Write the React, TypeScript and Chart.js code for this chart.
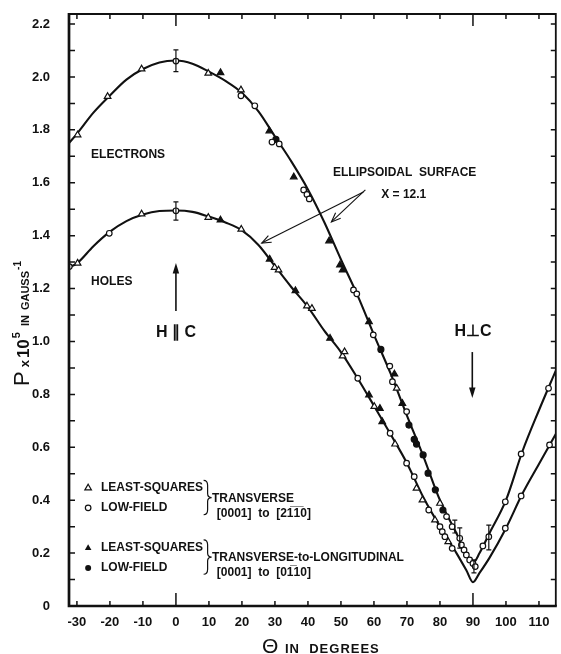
import React, { useEffect, useRef } from "react";
import { Chart, registerables } from "chart.js";
Chart.register(...registerables);

// ---------- axis ticks ----------
const xTicks = [-30, -20, -10, 0, 10, 20, 30, 40, 50, 60, 70, 80, 90, 100, 110];
const xTickLabels = ["-30", "-20", "-10", "0", "10", "20", "30", "40", "50", "60", "70", "80", "90", "100", "110"];
const yTicks = [0, 0.2, 0.4, 0.6, 0.8, 1.0, 1.2, 1.4, 1.6, 1.8, 2.0, 2.2];
const yTickLabels = ["0", "0.2", "0.4", "0.6", "0.8", "1.0", "1.2", "1.4", "1.6", "1.8", "2.0", "2.2"];
const yMinorTicks = [0.1, 0.3, 0.5, 0.7, 0.9, 1.1, 1.3, 1.5, 1.7, 1.9, 2.1];

// ---------- fitted curves (ellipsoidal surface, X = 12.1) ----------
const curveTheta = [-32.4, -30, -25, -20, -15, -10, -5, 0, 5, 10, 15, 20, 25, 30, 35, 40, 45, 50, 55, 60, 65, 70, 75, 80, 85, 88, 90, 92, 95, 100, 105, 110, 115.1];
const electronCurveP = [1.75, 1.785, 1.865, 1.93, 1.99, 2.03, 2.055, 2.062, 2.05, 2.02, 1.985, 1.94, 1.87, 1.775, 1.68, 1.575, 1.45, 1.31, 1.175, 1.025, 0.88, 0.72, 0.565, 0.4, 0.275, 0.195, 0.163, 0.2, 0.275, 0.4, 0.585, 0.74, 0.89];
const holeCurveP = [1.28, 1.295, 1.36, 1.415, 1.455, 1.48, 1.493, 1.495, 1.49, 1.472, 1.45, 1.42, 1.365, 1.285, 1.205, 1.13, 1.04, 0.96, 0.862, 0.757, 0.65, 0.54, 0.41, 0.3, 0.2, 0.135, 0.09, 0.125, 0.182, 0.294, 0.425, 0.537, 0.65];

// ---------- measured points ----------
// transverse, least-squares (open triangles)
const elecOpenTriTheta = [-29.8, -20.7, -10.4, 9.8, 19.7, 66.9, 80];
const elecOpenTriP = [1.781, 1.926, 2.03, 2.014, 1.951, 0.823, 0.388];
const holeOpenTriTheta = [-29.8, -10.4, 9.8, 19.8, 29.9, 31.1, 39.7, 41.2, 50.5, 51.1, 60.1, 66.4, 72.9, 74.7, 78.5, 82.5];
const holeOpenTriP = [1.296, 1.482, 1.469, 1.424, 1.28, 1.27, 1.134, 1.125, 0.945, 0.961, 0.754, 0.612, 0.445, 0.401, 0.325, 0.243];
// transverse, low-field (open circles)
const elecOpenCircTheta = [0, 19.7, 23.9, 29.1, 31.3, 38.7, 39.7, 40.4, 53.8, 54.8, 59.8, 64.8, 65.6, 69.9, 82, 83.7, 86, 86.5, 87.3, 88, 89, 90, 90.7, 93, 94.8, 99.8, 104.6, 112.9];
const elecOpenCircP = [2.06, 1.929, 1.891, 1.754, 1.747, 1.573, 1.556, 1.539, 1.195, 1.18, 1.025, 0.907, 0.848, 0.735, 0.338, 0.3, 0.256, 0.231, 0.212, 0.193, 0.174, 0.161, 0.149, 0.227, 0.262, 0.394, 0.575, 0.823];
const holeOpenCircTheta = [-32.3, -20.2, 0, 55.1, 64.9, 69.9, 72.2, 76.6, 80, 80.7, 81.5, 83.7, 99.8, 104.6, 113.2];
const holeOpenCircP = [1.283, 1.409, 1.494, 0.861, 0.653, 0.54, 0.489, 0.363, 0.3, 0.281, 0.262, 0.218, 0.294, 0.416, 0.609];
// transverse-to-longitudinal, least-squares (filled triangles)
const elecFillTriTheta = [13.5, 28.3, 35.7, 46.4, 49.7, 50.5, 58.5, 66.2, 68.6];
const elecFillTriP = [2.016, 1.796, 1.622, 1.38, 1.289, 1.27, 1.075, 0.877, 0.766];
const holeFillTriTheta = [13.5, 28.4, 36.2, 46.7, 58.5, 61.8, 62.5];
const holeFillTriP = [1.459, 1.311, 1.192, 1.012, 0.798, 0.747, 0.697];
// transverse-to-longitudinal, low-field (filled circles)
const elecFillCircTheta = [30.3, 62.1, 70.6, 72.2, 72.9, 74.9, 76.4, 78.6, 80.9];
const elecFillCircP = [1.764, 0.97, 0.684, 0.63, 0.612, 0.571, 0.502, 0.439, 0.363];

// error bars
const errTheta = [0, 0, 84.5, 86, 90.3, 94.8];
const errLow = [2.02, 1.459, 0.276, 0.219, 0.125, 0.212];
const errHigh = [2.102, 1.528, 0.325, 0.295, 0.174, 0.306];

const FONT = "'Liberation Sans', Arial, sans-serif";
const INK = "#111";

const zip = (xs: number[], ys: number[]) => xs.map((x, i) => ({ x, y: ys[i] }));

function triPath(ctx: CanvasRenderingContext2D, x: number, y: number, r: number) {
  ctx.beginPath();
  for (let k = 0; k < 3; k++) {
    const a = (k * 2 * Math.PI) / 3;
    const px = x + Math.sin(a) * r;
    const py = y - Math.cos(a) * r;
    if (k === 0) ctx.moveTo(px, py);
    else ctx.lineTo(px, py);
  }
  ctx.closePath();
}

function arrow(ctx: CanvasRenderingContext2D, x1: number, y1: number, x2: number, y2: number, filled: boolean, lw: number) {
  const ang = Math.atan2(y2 - y1, x2 - x1);
  const len = filled ? 11 : 10;
  const half = filled ? 0.3 : 0.38;
  ctx.lineWidth = lw;
  ctx.beginPath();
  ctx.moveTo(x1, y1);
  ctx.lineTo(filled ? x2 - Math.cos(ang) * len * 0.8 : x2, filled ? y2 - Math.sin(ang) * len * 0.8 : y2);
  ctx.stroke();
  const ax = x2 - Math.cos(ang - half) * len;
  const ay = y2 - Math.sin(ang - half) * len;
  const bx = x2 - Math.cos(ang + half) * len;
  const by = y2 - Math.sin(ang + half) * len;
  ctx.beginPath();
  if (filled) {
    ctx.moveTo(x2, y2);
    ctx.lineTo(ax, ay);
    ctx.lineTo(bx, by);
    ctx.closePath();
    ctx.fill();
  } else {
    ctx.moveTo(ax, ay);
    ctx.lineTo(x2, y2);
    ctx.lineTo(bx, by);
    ctx.stroke();
  }
}

function brace(ctx: CanvasRenderingContext2D, x: number, yTop: number, yBot: number) {
  const ym = (yTop + yBot) / 2;
  ctx.lineWidth = 1.2;
  ctx.beginPath();
  ctx.moveTo(x - 4, yTop);
  ctx.quadraticCurveTo(x, yTop, x, yTop + 5);
  ctx.lineTo(x, ym - 4);
  ctx.quadraticCurveTo(x, ym, x + 4, ym);
  ctx.quadraticCurveTo(x, ym, x, ym + 4);
  ctx.lineTo(x, yBot - 5);
  ctx.quadraticCurveTo(x, yBot, x - 4, yBot);
  ctx.stroke();
}

const paperPlugin = {
  id: "paper",
  afterDatasetsDraw(chart: any) {
    const ctx: CanvasRenderingContext2D = chart.ctx;
    const xs = chart.scales.x;
    const ys = chart.scales.y;
    const X = (v: number) => xs.getPixelForValue(v);
    const Y = (v: number) => ys.getPixelForValue(v);
    const { left, right, top, bottom } = chart.chartArea;
    ctx.save();
    ctx.strokeStyle = INK;
    ctx.fillStyle = INK;
    ctx.lineCap = "butt";

    // error bars
    ctx.lineWidth = 1.2;
    errTheta.forEach((t, i) => {
      const x = X(t);
      const y1 = Y(errLow[i]);
      const y2 = Y(errHigh[i]);
      ctx.beginPath();
      ctx.moveTo(x, y1);
      ctx.lineTo(x, y2);
      ctx.moveTo(x - 2.5, y1);
      ctx.lineTo(x + 2.5, y1);
      ctx.moveTo(x - 2.5, y2);
      ctx.lineTo(x + 2.5, y2);
      ctx.stroke();
    });

    // frame
    ctx.lineWidth = 1.8;
    ctx.beginPath();
    ctx.moveTo(left, top);
    ctx.lineTo(right, top);
    ctx.lineTo(right, bottom);
    ctx.stroke();
    ctx.lineWidth = 2.7;
    ctx.beginPath();
    ctx.moveTo(left, top - 1);
    ctx.lineTo(left, bottom);
    ctx.lineTo(right + 1, bottom);
    ctx.stroke();

    // inward ticks
    ctx.lineWidth = 1.5;
    ctx.beginPath();
    [...yTicks.slice(1), ...yMinorTicks].forEach((v) => {
      const y = Y(v);
      ctx.moveTo(left, y);
      ctx.lineTo(left + 6, y);
      ctx.moveTo(right, y);
      ctx.lineTo(right - 5, y);
    });
    xTicks.forEach((v) => {
      const x = X(v);
      const long = v === 0 || v === 90;
      ctx.moveTo(x, bottom);
      ctx.lineTo(x, bottom - (long ? 13 : 5));
      ctx.moveTo(x, top);
      ctx.lineTo(x, top + (long ? 12 : 5));
    });
    ctx.stroke();

    // annotations
    ctx.textBaseline = "middle";
    ctx.textAlign = "left";
    ctx.font = `bold 12px ${FONT}`;
    ctx.fillText("ELECTRONS", X(-25.7), Y(1.705));
    ctx.fillText("HOLES", X(-25.7), Y(1.225));
    ctx.fillText("ELLIPSOIDAL  SURFACE", X(47.6), Y(1.637));
    ctx.fillText("X = 12.1", X(62.2), Y(1.554));

    ctx.textAlign = "center";
    ctx.font = `bold 16px ${FONT}`;
    ctx.fillText("H \u2225 C", X(0), Y(1.032));
    ctx.fillText("H\u22A5C", X(90), Y(1.036));

    arrow(ctx, X(0), Y(1.115), X(0), Y(1.297), true, 1.6);
    arrow(ctx, X(89.8), Y(0.96), X(89.8), Y(0.786), true, 1.6);
    arrow(ctx, X(57.4), Y(1.573), X(47.1), Y(1.452), false, 1.1);
    arrow(ctx, X(56.8), Y(1.565), X(26), Y(1.372), false, 1.1);

    // legend
    const mx = X(-26.6);
    ctx.lineWidth = 1.2;
    triPath(ctx, mx, Y(0.446), 3.8);
    ctx.fillStyle = "#fff";
    ctx.fill();
    ctx.fillStyle = INK;
    ctx.stroke();
    ctx.beginPath();
    ctx.arc(mx, Y(0.371), 2.8, 0, Math.PI * 2);
    ctx.stroke();
    triPath(ctx, mx, Y(0.219), 3.8);
    ctx.fill();
    ctx.beginPath();
    ctx.arc(mx, Y(0.144), 3, 0, Math.PI * 2);
    ctx.fill();

    ctx.textAlign = "left";
    ctx.font = `bold 12px ${FONT}`;
    const tx = X(-22.7);
    ctx.fillText("LEAST-SQUARES", tx, Y(0.446));
    ctx.fillText("LOW-FIELD", tx, Y(0.371));
    ctx.fillText("LEAST-SQUARES", tx, Y(0.219));
    ctx.fillText("LOW-FIELD", tx, Y(0.144));
    brace(ctx, X(9.6), Y(0.475), Y(0.345));
    brace(ctx, X(9.6), Y(0.25), Y(0.12));
    ctx.fillText("TRANSVERSE", X(10.9), Y(0.405));
    ctx.fillText("TRANSVERSE-to-LONGITUDINAL", X(10.9), Y(0.181));
    ctx.font = `bold 12px ${FONT}`;
    ctx.fillText("[0001]  to  [21\u03051\u03050]", X(12.4), Y(0.348));
    ctx.fillText("[0001]  to  [01\u030510]", X(12.4), Y(0.125));

    // x-axis title
    ctx.textBaseline = "alphabetic";
    ctx.font = `21px ${FONT}`;
    ctx.fillText("\u0398", 262, 653);
    ctx.font = `bold 13px ${FONT}`;
    (ctx as any).letterSpacing = "1px";
    ctx.fillText("IN  DEGREES", 285, 653);
    (ctx as any).letterSpacing = "0px";

    // y-axis title (rotated)
    ctx.translate(29, 386);
    ctx.rotate(-Math.PI / 2);
    let cx = 0;
    const seg = (s: string, font: string, dy: number, gap: number) => {
      ctx.font = font;
      ctx.fillText(s, cx, dy);
      cx += ctx.measureText(s).width + gap;
    };
    seg("P", `22px ${FONT}`, 0, 4);
    seg("x", `bold 13px ${FONT}`, 0, 2);
    seg("10", `bold 17px ${FONT}`, 0, 1);
    seg("5", `bold 11px ${FONT}`, -9, 6);
    seg("IN", `bold 11px ${FONT}`, 0, 5);
    seg("GAUSS", `bold 11px ${FONT}`, 0, 1);
    seg("-1", `bold 10px ${FONT}`, -8, 0);
    ctx.restore();
  },
};

export default function App() {
  const ref = useRef<HTMLCanvasElement>(null);
  useEffect(() => {
    const tickFont = { family: FONT, size: 13, weight: "bold" as const };
    const markerBase = { showLine: false, borderColor: INK, borderWidth: 1.2, order: 0 };
    const chart = new Chart(ref.current as HTMLCanvasElement, {
      type: "scatter",
      data: {
        datasets: [
          { ...markerBase, data: zip(elecOpenTriTheta, elecOpenTriP), pointStyle: "triangle", pointRadius: 3.8, backgroundColor: "#fff" },
          { ...markerBase, data: zip(holeOpenTriTheta, holeOpenTriP), pointStyle: "triangle", pointRadius: 3.8, backgroundColor: "#fff" },
          { ...markerBase, data: zip(elecOpenCircTheta, elecOpenCircP), pointStyle: "circle", pointRadius: 2.8, backgroundColor: "#fff" },
          { ...markerBase, data: zip(holeOpenCircTheta, holeOpenCircP), pointStyle: "circle", pointRadius: 2.8, backgroundColor: "#fff" },
          { ...markerBase, data: zip(elecFillTriTheta, elecFillTriP), pointStyle: "triangle", pointRadius: 3.8, backgroundColor: INK },
          { ...markerBase, data: zip(holeFillTriTheta, holeFillTriP), pointStyle: "triangle", pointRadius: 3.8, backgroundColor: INK },
          { ...markerBase, data: zip(elecFillCircTheta, elecFillCircP), pointStyle: "circle", pointRadius: 3, backgroundColor: INK },
          {
            data: zip(curveTheta, electronCurveP),
            showLine: true,
            pointRadius: 0,
            borderColor: INK,
            borderWidth: 2.1,
            cubicInterpolationMode: "monotone",
            order: 1,
          },
          {
            data: zip(curveTheta, holeCurveP),
            showLine: true,
            pointRadius: 0,
            borderColor: INK,
            borderWidth: 2.1,
            cubicInterpolationMode: "monotone",
            order: 1,
          },
        ],
      },
      options: {
        responsive: false,
        animation: false,
        events: [],
        devicePixelRatio: 1,
        layout: { padding: { top: 14, right: 3, bottom: 0, left: 0 } },
        plugins: { legend: { display: false }, tooltip: { enabled: false } },
        scales: {
          x: {
            type: "linear",
            min: -32.4,
            max: 115.1,
            afterBuildTicks: (s: any) => {
              s.ticks = xTicks.map((v) => ({ value: v }));
            },
            afterFit: (s: any) => {
              s.height = 48;
              s.paddingLeft = 0;
              s.paddingRight = 0;
            },
            ticks: {
              font: tickFont,
              color: INK,
              padding: 9,
              maxRotation: 0,
              autoSkip: false,
              callback: (_v: any, i: number) => xTickLabels[i],
            },
            grid: { display: false, drawTicks: false },
            border: { display: false },
          },
          y: {
            type: "linear",
            min: 0,
            max: 2.238,
            afterBuildTicks: (s: any) => {
              s.ticks = yTicks.map((v) => ({ value: v }));
            },
            afterFit: (s: any) => {
              s.width = 69;
              s.paddingTop = 0;
              s.paddingBottom = 0;
            },
            ticks: {
              font: tickFont,
              color: INK,
              padding: 19,
              autoSkip: false,
              callback: (_v: any, i: number) => yTickLabels[i],
            },
            grid: { display: false, drawTicks: false },
            border: { display: false },
          },
        },
      },
      plugins: [paperPlugin],
    } as any);
    return () => chart.destroy();
  }, []);
  return (
    <div style={{ position: "fixed", left: 0, top: 0, width: 561, height: 654, background: "#fff" }}>
      <canvas ref={ref} width={561} height={654} style={{ display: "block", width: 561, height: 654 }} />
    </div>
  );
}
